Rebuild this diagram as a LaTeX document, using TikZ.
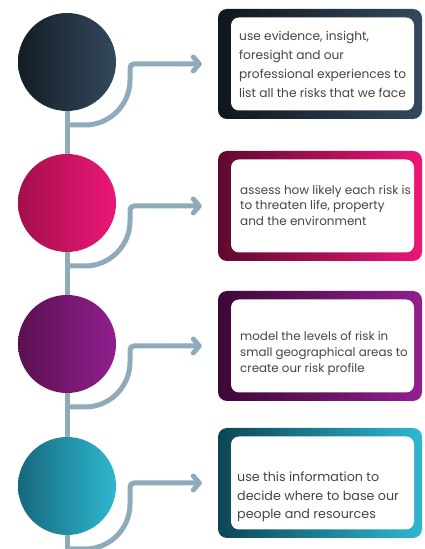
\documentclass[tikz,border=0pt]{standalone}
\usepackage{fontspec}
\setmainfont{Poppins}
\usepackage{tikz}
\usetikzlibrary{arrows.meta, positioning, calc, backgrounds}

\definecolor{spine}{HTML}{8FABBA}
\definecolor{inktext}{HTML}{454545}
\definecolor{navyL}{HTML}{151C25}
\definecolor{navyR}{HTML}{33495D}
\definecolor{navyF}{HTML}{10161E}
\definecolor{pinkL}{HTML}{A3104C}
\definecolor{pinkR}{HTML}{EC1677}
\definecolor{pinkF}{HTML}{5E0A2F}
\definecolor{plumL}{HTML}{5A1050}
\definecolor{plumR}{HTML}{911F8F}
\definecolor{plumF}{HTML}{3C0836}
\definecolor{tealL}{HTML}{17687E}
\definecolor{tealR}{HTML}{2DB8CF}
\definecolor{tealF}{HTML}{0D4656}

\begin{document}
\begin{tikzpicture}[x=1pt, y=1pt,
    stepdot/.style={circle, minimum size=98pt, inner sep=0pt},
    frame/.style={rounded corners=9pt, minimum width=204pt, minimum height=110pt, inner sep=0pt},
    card/.style={fill=white, rounded corners=8pt, minimum width=183pt, minimum height=93pt, inner sep=0pt},
    link/.style={line width=5pt, draw=spine},
    info/.style={anchor=west, align=left, inner sep=0pt, text=inktext}]
    \useasboundingbox (0,0) rectangle (425,549);

    % circles
    \node[stepdot, left color=navyL, right color=navyR] (c1) at (67,487) {};
    \node[stepdot, left color=pinkL, right color=pinkR] (c2) at (67,346) {};
    \node[stepdot, left color=plumL, right color=plumR] (c3) at (67,205) {};
    \node[stepdot, left color=tealL, right color=tealR] (c4) at (67,63) {};
    \coordinate (bottom) at (67,-6);

    % boxes
    \node[frame, left color=navyF, right color=navyR] (box1) at (320,485) {};
    \node[frame, left color=pinkF, right color=pinkR] (box2) at (320,343) {};
    \node[frame, left color=plumF, right color=plumR] (box3) at (320,203) {};
    \node[frame, left color=tealF, right color=tealR] (box4) at (320,66) {};
    \foreach \i in {1,...,4} {
        \node[card, xshift=2.5pt] (card\i) at (box\i.center) {};
    }

    % texts
    \node[info, font=\fontsize{12.2}{19}\selectfont] (t1) at (239,485)
        {use evidence, insight,\\foresight and our\\professional experiences to\\list all the risks that we face};
    \node[info, font=\fontsize{12}{15.5}\selectfont] (t2) at (240,344)
        {assess how likely each risk is\\to threaten life, property\\and the environment};
    \node[info, font=\fontsize{11.85}{16}\selectfont] (t3) at (240,195)
        {model the levels of risk in\\small geographical areas to\\create our risk profile};
    \node[info, font=\fontsize{12.7}{18.5}\selectfont] (t4) at (237,52)
        {use this information to\\decide where to base our\\people and resources};

    % spine and branches
    \begin{scope}[on background layer]
        \draw[link] (c1.center) -- (bottom);
        \foreach \i in {1,...,4} {
            \coordinate (b\i) at ($(c\i.center)+(0,-63)$);
            \draw[link, -{Straight Barb[length=6pt, width=14pt, round]}]
                (b\i) -- ++(18,0) arc[start angle=-90, end angle=0, radius=45]
                [rounded corners=4pt] |- ([xshift=-16pt]box\i.west);
        }
    \end{scope}
\end{tikzpicture}
\end{document}
